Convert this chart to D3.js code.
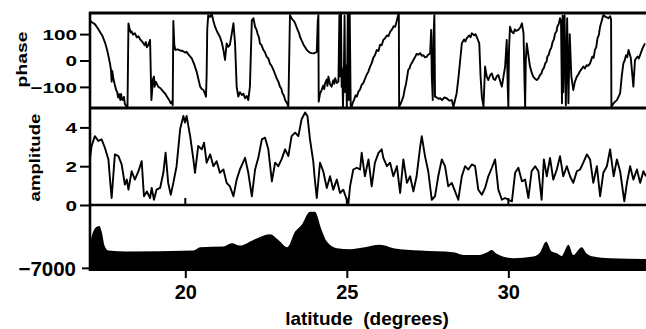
<!DOCTYPE html>
<html>
<head>
<meta charset="utf-8">
<script src="https://cdn.jsdelivr.net/npm/d3@7"></script>
<style>
body { margin: 0; background: #fff; }
svg { display: block; font-family: "Liberation Sans", Arial, sans-serif; font-weight: bold; }
.tick line { stroke: #000; stroke-width: 2; }
.tick text { fill: #000; }
</style>
</head>
<body>
<svg id="chart" width="646" height="329"></svg>
<script>
/* values: [latitude, value] */
var phasePts = [
  [17.06,150],[17.12,144],[17.20,138],[17.28,124],[17.36,108],[17.44,92],[17.52,66],[17.58,40],
  [17.63,12],[17.67,-13],[17.70,-36],[17.72,-80],[17.74,-40],[17.77,-66],[17.82,-93],[17.86,-112],
  [17.89,-119],[17.92,-140],[17.95,-128],[17.99,-150],[18.01,-127],[18.04,-146],[18.07,-150],[18.10,-138],
  [18.13,-165],[18.17,-172],[18.21,-180],[18.24,140],[18.28,118],[18.31,106],[18.34,110],[18.38,98],
  [18.44,103],[18.50,88],[18.55,92],[18.60,80],[18.65,74],[18.70,66],[18.74,58],[18.78,70],
  [18.81,50],[18.86,60],[18.91,78],[18.93,-40],[18.95,-150],[18.97,-120],[19.00,-70],[19.03,-61],
  [19.05,-100],[19.08,-80],[19.11,-86],[19.16,-99],[19.22,-104],[19.28,-112],[19.32,-118],[19.38,-126],
  [19.44,-138],[19.50,-150],[19.55,-162],[19.58,-155],[19.61,-170],[19.63,150],[19.66,60],[19.69,40],
  [19.76,42],[19.84,38],[19.92,36],[20.00,30],[20.04,33],[20.10,22],[20.20,8],[20.28,-16],
  [20.35,-42],[20.46,-99],[20.51,-108],[20.56,-112],[20.61,-125],[20.64,-137],[20.66,-60],[20.68,120],
  [20.71,172],[20.77,165],[20.82,176],[20.87,150],[20.92,128],[20.99,108],[21.07,90],[21.13,68],
  [21.18,40],[21.23,2],[21.28,65],[21.33,52],[21.38,59],[21.44,103],[21.49,141],[21.54,65],
  [21.59,-99],[21.64,-137],[21.69,-120],[21.75,-131],[21.80,-126],[21.85,-143],[21.90,-135],[21.95,-150],
  [22.00,-99],[22.06,153],[22.11,160],[22.16,128],[22.20,118],[22.24,100],[22.28,88],[22.31,65],
  [22.36,58],[22.41,42],[22.47,30],[22.52,14],[22.57,8],[22.62,-12],[22.67,-20],[22.73,-36],
  [22.78,-52],[22.83,-68],[22.88,-80],[22.93,-99],[22.97,-106],[23.01,-125],[23.05,-132],[23.09,-150],
  [23.14,-160],[23.19,-175],[23.24,172],[23.28,162],[23.32,155],[23.36,150],[23.40,141],[23.44,128],
  [23.48,115],[23.52,104],[23.55,90],[23.60,76],[23.66,60],[23.71,50],[23.76,40],[23.81,34],
  [23.86,30],[23.91,28],[23.96,27],[24.03,30],[24.07,33],[24.10,150],[24.12,172],[24.13,-156],
  [24.17,-125],[24.22,-112],[24.27,-95],[24.30,-108],[24.33,-86],[24.38,-72],[24.40,-96],[24.43,-61],
  [24.48,-90],[24.53,-99],[24.58,-75],[24.61,-88],[24.64,-67],[24.69,-85],[24.74,-80],[24.77,172],
  [24.79,-60],[24.82,175],[24.84,-100],[24.86,-30],[24.88,-175],[24.91,-40],[24.93,170],[24.95,-120],
  [24.98,-20],[25.00,-178],[25.03,175],[25.06,-150],[25.09,178],[25.12,-170],[25.15,-175],[25.19,-158],
  [25.22,-150],[25.27,-132],[25.31,-137],[25.36,-118],[25.41,-110],[25.46,-92],[25.51,-86],[25.56,-70],
  [25.61,-55],[25.66,-44],[25.72,-23],[25.77,-10],[25.82,10],[25.87,20],[25.93,40],[25.98,36],
  [26.03,60],[26.08,58],[26.13,78],[26.18,84],[26.24,95],[26.29,92],[26.34,109],[26.40,118],
  [26.45,130],[26.50,128],[26.55,153],[26.59,172],[26.61,178],[26.62,-175],[26.68,-160],[26.75,-137],
  [26.79,-110],[26.83,-90],[26.87,-60],[26.90,-36],[26.94,-30],[26.98,-15],[27.02,-8],[27.06,2],
  [27.11,12],[27.16,25],[27.22,22],[27.27,28],[27.32,18],[27.37,20],[27.42,12],[27.47,14],
  [27.52,22],[27.58,27],[27.61,116],[27.63,-60],[27.66,-150],[27.68,80],[27.71,172],[27.73,-137],
  [27.78,-140],[27.84,-145],[27.89,-143],[27.95,-150],[28.02,-140],[28.09,-143],[28.17,-152],[28.25,-150],
  [28.30,-175],[28.35,-150],[28.40,-124],[28.46,-60],[28.51,2],[28.56,65],[28.63,80],[28.67,72],
  [28.71,84],[28.75,90],[28.79,95],[28.83,88],[28.87,103],[28.94,96],[28.98,100],[29.02,90],
  [29.10,65],[29.14,-60],[29.18,-137],[29.23,-175],[29.28,-23],[29.33,-60],[29.38,-74],[29.44,-55],
  [29.49,-49],[29.54,-70],[29.59,-74],[29.64,-60],[29.69,-55],[29.75,-80],[29.80,-99],[29.85,-60],
  [29.90,-23],[29.95,78],[29.98,-100],[30.00,-175],[30.02,40],[30.05,128],[30.10,110],[30.16,103],
  [30.20,118],[30.24,112],[30.31,116],[30.37,125],[30.42,141],[30.47,103],[30.50,-80],[30.52,-175],
  [30.54,0],[30.57,65],[30.62,20],[30.67,-23],[30.72,-45],[30.77,-61],[30.83,-70],[30.88,-74],
  [30.93,-68],[30.98,-55],[31.02,-50],[31.06,-35],[31.10,-28],[31.14,-11],[31.18,-5],[31.21,15],
  [31.25,22],[31.29,40],[31.33,48],[31.37,70],[31.41,80],[31.45,103],[31.49,110],[31.52,130],
  [31.56,138],[31.60,160],[31.63,150],[31.66,-162],[31.68,170],[31.70,-120],[31.74,172],[31.78,-170],
  [31.82,160],[31.86,-162],[31.90,100],[31.95,-60],[32.01,-112],[32.06,-80],[32.12,-61],[32.17,-52],
  [32.22,-40],[32.27,-32],[32.32,-23],[32.37,-30],[32.42,-18],[32.47,-20],[32.53,-11],[32.60,15],
  [32.64,10],[32.68,40],[32.72,50],[32.76,85],[32.80,96],[32.84,128],[32.89,150],[32.94,172],
  [33.02,165],[33.10,160],[33.15,168],[33.18,155],[33.19,-175],[33.27,-160],[33.36,-150],[33.42,-135],
  [33.46,-124],[33.51,-60],[33.56,-11],[33.60,0],[33.64,20],[33.68,12],[33.72,40],[33.79,10],
  [33.87,-99],[33.92,2],[34.00,15],[34.04,8],[34.08,21],[34.15,45],[34.23,65]
]

var ampPts = [
  [17.05,2.43],[17.10,3.04],[17.20,3.55],[17.31,3.3],[17.41,3.38],[17.51,2.95],[17.62,2.35],[17.67,1.31],
  [17.72,0.36],[17.77,1.48],[17.82,2.61],[17.93,2.52],[18.03,2.09],[18.13,1.05],[18.19,1.31],[18.24,0.79],
  [18.34,1.74],[18.44,1.31],[18.55,1.74],[18.65,2.26],[18.72,0.45],[18.81,0.7],[18.91,0.36],[18.96,0.88],
  [19.03,0.27],[19.11,0.79],[19.22,0.88],[19.32,1.66],[19.39,2.69],[19.47,1.14],[19.55,0.53],[19.63,1.14],
  [19.73,2.0],[19.84,3.9],[19.94,4.59],[19.99,4.25],[20.04,4.59],[20.15,3.55],[20.25,2.35],[20.30,1.66],
  [20.40,3.04],[20.51,2.87],[20.58,3.21],[20.66,2.18],[20.77,2.61],[20.87,2.0],[20.97,2.26],[21.07,1.66],
  [21.18,1.83],[21.28,1.14],[21.38,0.96],[21.49,0.45],[21.59,1.31],[21.69,1.83],[21.85,2.43],[21.95,1.66],
  [22.06,0.45],[22.16,1.83],[22.26,2.43],[22.37,3.38],[22.47,3.47],[22.57,2.87],[22.68,1.22],[22.78,2.18],
  [22.88,2.0],[22.98,2.35],[23.09,2.87],[23.19,2.52],[23.29,3.55],[23.40,3.73],[23.50,3.55],[23.60,4.42],
  [23.71,4.77],[23.78,4.59],[23.86,3.38],[23.96,2.26],[24.01,1.31],[24.07,0.36],[24.17,2.18],[24.27,1.74],
  [24.38,0.88],[24.48,1.48],[24.58,0.79],[24.69,1.31],[24.79,0.62],[24.89,0.79],[25.00,0.27],[25.05,0.1],
  [25.10,0.96],[25.20,1.83],[25.31,1.92],[25.41,1.83],[25.46,2.69],[25.56,1.48],[25.67,2.35],[25.77,0.96],
  [25.87,2.18],[25.98,2.69],[26.08,2.87],[26.13,2.43],[26.24,2.0],[26.34,2.18],[26.44,1.48],[26.55,2.0],
  [26.65,0.62],[26.75,2.35],[26.86,1.14],[26.96,1.48],[27.06,0.7],[27.16,1.48],[27.27,3.0],[27.32,3.55],
  [27.42,2.52],[27.52,1.74],[27.63,0.27],[27.73,0.45],[27.83,1.48],[27.94,2.35],[28.04,2.0],[28.14,0.96],
  [28.25,1.14],[28.35,0.7],[28.45,0.27],[28.56,1.48],[28.66,2.0],[28.76,1.83],[28.87,2.09],[28.97,2.0],
  [29.07,0.79],[29.18,0.53],[29.28,0.88],[29.38,1.48],[29.49,1.92],[29.59,2.35],[29.69,0.79],[29.80,0.27],
  [29.90,0.36],[30.00,0.27],[30.11,0.19],[30.21,1.66],[30.31,1.92],[30.42,1.22],[30.52,1.31],[30.62,0.36],
  [30.72,1.74],[30.83,2.0],[30.93,1.74],[31.03,0.27],[31.10,2.35],[31.19,1.48],[31.29,2.43],[31.39,1.31],
  [31.50,1.83],[31.60,2.52],[31.70,1.48],[31.81,2.0],[31.91,1.48],[32.01,1.14],[32.12,1.74],[32.22,1.83],
  [32.32,2.18],[32.43,2.61],[32.53,2.35],[32.63,1.14],[32.74,2.0],[32.84,0.45],[32.94,1.66],[33.05,2.0],
  [33.15,2.87],[33.26,1.48],[33.36,2.35],[33.46,1.74],[33.59,0.19],[33.67,1.14],[33.77,2.0],[33.87,1.31],
  [33.98,1.83],[34.08,1.14],[34.18,1.74],[34.26,1.48]
]

var depthPts = [
  [17.05,-4260],[17.15,-2960],[17.26,-2410],[17.34,-2330],[17.41,-2960],[17.51,-4630],[17.62,-5080],[18.19,-5190],
  [20.25,-5080],[20.46,-4700],[21.18,-4630],[21.44,-4260],[21.69,-4520],[22.11,-3890],[22.62,-3260],[22.88,-3890],
  [23.16,-4700],[23.40,-2960],[23.60,-2220],[23.86,-740],[24.01,-740],[24.22,-2780],[24.38,-4070],[24.69,-4810],
  [25.10,-4920],[25.51,-4740],[26.03,-4440],[26.44,-4810],[27.27,-5080],[28.30,-5260],[28.61,-5560],[29.12,-5560],
  [29.33,-5300],[29.49,-5000],[29.64,-5440],[30.16,-5920],[30.77,-5740],[30.98,-5300],[31.17,-4070],[31.34,-5190],
  [31.50,-5370],[31.65,-5670],[31.86,-4440],[32.01,-5560],[32.27,-4700],[32.43,-5440],[32.63,-5740],[33.15,-5920],
  [34.26,-6000]
]

var latTicks = [20, 25, 30]
var phaseTicks = [-100, 0, 100]
var ampTicks = [0, 2, 4]
var depthTicks = [-7000]

var svg = d3.select("#chart")

/* scales */
var x = d3.scaleLinear().domain([17.05, 34.23]).range([90, 645])
var yPhase = d3.scaleLinear().domain([-180, 180]).range([108, 13])
var yAmp = d3.scaleLinear().domain([0, 5]).range([205, 108])
var yDepth = d3.scaleLinear().domain([-7350, 0]).range([271, 205])

/* clip regions per panel */
var defs = svg.append("defs")
function addClip(id, y0, y1) {
  defs.append("clipPath").attr("id", id)
    .append("rect").attr("x", 90).attr("y", y0).attr("width", 556).attr("height", y1 - y0)
}
addClip("clip-phase", 13, 108)
addClip("clip-amp", 108, 205)
addClip("clip-depth", 205, 271)

/* data marks */
var phaseLine = d3.line().x(function(d) { return x(d[0]) }).y(function(d) { return yPhase(d[1]) })
svg.append("path")
  .attr("d", phaseLine(phasePts))
  .attr("clip-path", "url(#clip-phase)")
  .attr("fill", "none").attr("stroke", "#000").attr("stroke-width", 1.9).attr("stroke-linejoin", "round")

var ampLine = d3.line().x(function(d) { return x(d[0]) }).y(function(d) { return yAmp(d[1]) })
svg.append("path")
  .attr("d", ampLine(ampPts))
  .attr("clip-path", "url(#clip-amp)")
  .attr("fill", "none").attr("stroke", "#000").attr("stroke-width", 1.9).attr("stroke-linejoin", "round")

var depthArea = d3.area()
  .x(function(d) { return x(d[0]) })
  .y0(yDepth(-7350))
  .y1(function(d) { return yDepth(d[1]) })
  .curve(d3.curveMonotoneX)
svg.append("path")
  .attr("d", depthArea(depthPts))
  .attr("clip-path", "url(#clip-depth)")
  .attr("fill", "#000")

/* frame lines */
function hLine(y, w) {
  svg.append("line").attr("x1", 89).attr("x2", 646).attr("y1", y).attr("y2", y)
    .attr("stroke", "#000").attr("stroke-width", w)
}
hLine(13, 2.8)
hLine(108, 2.8)
hLine(205, 2.6)
svg.append("line").attr("x1", 90).attr("x2", 90).attr("y1", 12).attr("y2", 271)
  .attr("stroke", "#000").attr("stroke-width", 2.6)

/* small inner ticks on the amplitude panel floor */
svg.selectAll(".inner-tick").data(latTicks).enter().append("line")
  .attr("class", "inner-tick")
  .attr("x1", function(d) { return x(d) }).attr("x2", function(d) { return x(d) })
  .attr("y1", 205).attr("y2", 198)
  .attr("stroke", "#000").attr("stroke-width", 2)

/* y axes: top two panels use a wide lettering */
function wideAxis(scale, ticks, fmt) {
  var g = svg.append("g").attr("transform", "translate(90,0)")
    .call(d3.axisLeft(scale).tickValues(ticks).tickFormat(fmt).tickSize(10).tickPadding(3))
  g.select(".domain").remove()
  g.selectAll(".tick text")
    .attr("font-size", 15)
    .attr("x", -13 / 1.38)
    .attr("dy", "0.36em")
    .attr("transform", "scale(1.38,1)")
  return g
}
wideAxis(yPhase, phaseTicks, d3.format("d"))
wideAxis(yAmp, ampTicks, d3.format("d"))

var depthAxis = svg.append("g").attr("transform", "translate(90,0)")
  .call(d3.axisLeft(yDepth).tickValues(depthTicks).tickFormat(d3.format("d")).tickSize(8).tickPadding(6))
depthAxis.select(".domain").remove()
depthAxis.selectAll(".tick text").attr("font-size", 20.5).attr("dy", "0.36em")

/* x axis */
var xAxis = svg.append("g").attr("transform", "translate(0,271)")
  .call(d3.axisBottom(x).tickValues(latTicks).tickFormat(d3.format("d")).tickSize(7).tickPadding(7))
xAxis.select(".domain").remove()
xAxis.selectAll(".tick text").attr("font-size", 20)

/* axis titles */
svg.append("text")
  .attr("transform", "translate(27,59.5) rotate(-90) scale(1.38,1)")
  .attr("text-anchor", "middle").attr("font-size", 14)
  .text("phase")
svg.append("text")
  .attr("transform", "translate(39.5,157.5) rotate(-90) scale(1.2,1)")
  .attr("text-anchor", "middle").attr("font-size", 15.5)
  .text("amplitude")
svg.append("text")
  .attr("x", 367).attr("y", 325)
  .attr("text-anchor", "middle").attr("font-size", 19)
  .style("white-space", "pre")
  .text("latitude  (degrees)")
</script>
</body>
</html>
